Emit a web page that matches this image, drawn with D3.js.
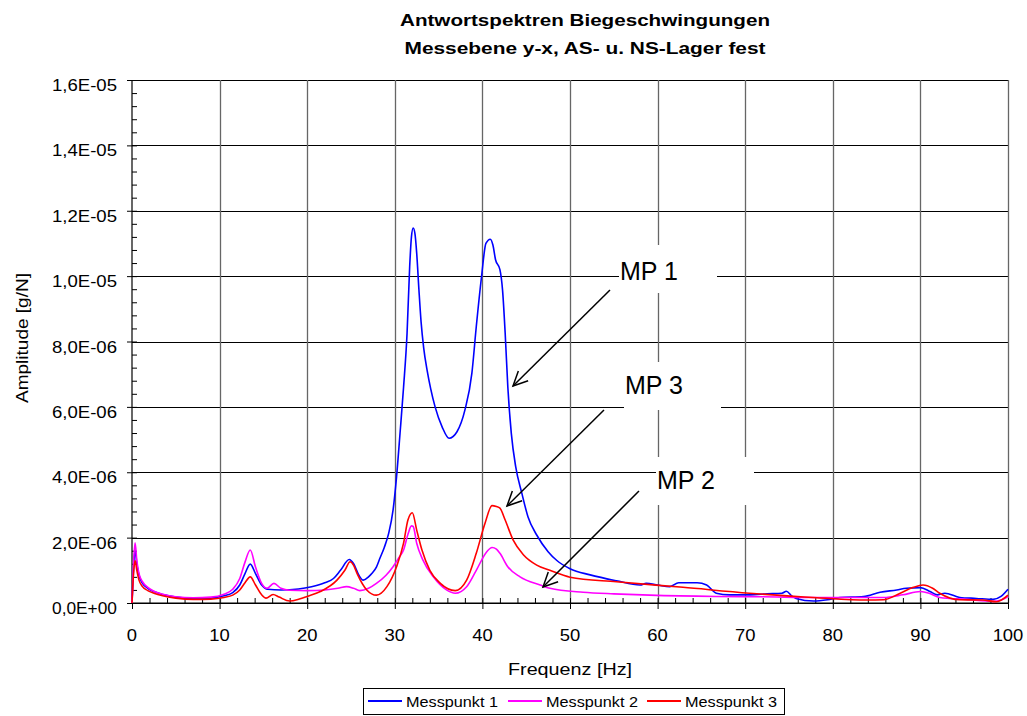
<!DOCTYPE html>
<html>
<head>
<meta charset="utf-8">
<script src="https://cdn.jsdelivr.net/npm/d3@7"></script>
<style>
  html, body { margin: 0; padding: 0; background: #fff; }
  svg { display: block; font-family: "Liberation Sans", Arial, sans-serif; }
</style>
</head>
<body>
<svg id="chart" width="1027" height="716"></svg>
<script>
// ---------- DATA (amplitude in units of 1E-06 g/N, frequency in Hz) ----------
const titleLines = ["Antwortspektren Biegeschwingungen", "Messebene y-x, AS- u. NS-Lager fest"];
const xLabel = "Frequenz [Hz]";
const yLabel = "Amplitude [g/N]";
const seriesNames = ["Messpunkt 1", "Messpunkt 2", "Messpunkt 3"];
const seriesColors = ["#0000ff", "#ff00ff", "#ff0000"];

const xTicks = [0, 10, 20, 30, 40, 50, 60, 70, 80, 90, 100];
const yTicks = [0, 2, 4, 6, 8, 10, 12, 14, 16];
const yTickLabels = ["0,0E+00", "2,0E-06", "4,0E-06", "6,0E-06", "8,0E-06", "1,0E-05", "1,2E-05", "1,4E-05", "1,6E-05"];

const mp1 = [[0,0],[0.15,0.9],[0.35,1.62],[0.55,1.2],[0.8,0.85],[1.2,0.6],[1.8,0.45],[2.5,0.35],[3.5,0.26],[5,0.18],[7,0.14],[9,0.15],[10.5,0.22],[11.5,0.32],[12.3,0.55],[12.9,0.9],[13.5,1.19],[14.1,0.9],[14.8,0.55],[15.5,0.42],[17,0.4],[19,0.43],[20.5,0.5],[22,0.62],[23,0.75],[23.8,1.0],[24.8,1.33],[25.3,1.2],[25.9,0.85],[26.4,0.7],[27,0.8],[27.4,0.91],[27.9,1.1],[28.3,1.37],[28.8,1.7],[29.3,2.13],[29.8,2.84],[30.2,3.86],[30.6,5.2],[31.0,6.6],[31.4,8.25],[31.7,10.3],[31.9,11.2],[32.1,11.47],[32.3,11.3],[32.5,10.7],[32.75,9.6],[33.0,8.6],[33.3,7.8],[33.7,7.1],[34.1,6.55],[34.6,6.0],[35.4,5.39],[36.2,5.04],[37.1,5.24],[38.0,5.9],[38.8,7.03],[39.3,8.45],[39.9,9.98],[40.4,11.0],[40.9,11.13],[41.2,10.95],[41.5,10.5],[42.0,10.2],[42.3,9.57],[42.6,8.25],[42.9,6.62],[43.3,5.19],[43.8,4.17],[44.5,3.36],[45.2,2.64],[46.2,2.08],[47.5,1.57],[48.5,1.3],[50,1.05],[52.3,0.86],[55.3,0.68],[58,0.55],[58.7,0.6],[60,0.55],[61.4,0.5],[62.4,0.62],[64.5,0.62],[65.6,0.55],[66.7,0.3],[68.2,0.25],[70.5,0.25],[72.5,0.28],[74.2,0.3],[74.7,0.36],[75.3,0.22],[75.8,0.14],[77.8,0.06],[79.4,0.1],[80.8,0.17],[83.5,0.2],[85.4,0.33],[87.3,0.4],[88.4,0.45],[90,0.47],[91.1,0.35],[91.9,0.25],[92.8,0.3],[94.5,0.17],[96.4,0.14],[98.3,0.11],[99.2,0.2],[100,0.42]];

const mp2 = [[0,0],[0.15,1.1],[0.35,1.84],[0.55,1.3],[0.8,0.9],[1.2,0.65],[1.8,0.48],[2.5,0.36],[3.5,0.27],[5,0.19],[7,0.16],[9,0.18],[10.5,0.27],[11.5,0.42],[12.3,0.75],[12.9,1.25],[13.5,1.62],[14.1,1.1],[14.8,0.6],[15.4,0.45],[16.2,0.6],[17,0.45],[18,0.39],[20,0.38],[22,0.4],[23.5,0.45],[24.5,0.5],[25.3,0.45],[26,0.38],[27,0.45],[27.9,0.6],[29,0.85],[29.8,1.11],[30.5,1.4],[31.0,1.62],[31.5,2.1],[31.9,2.36],[32.1,2.34],[32.5,1.83],[33.2,1.32],[34.4,0.8],[35.9,0.4],[36.9,0.3],[38.2,0.5],[39.3,1.0],[40.5,1.57],[41.1,1.7],[41.6,1.65],[42.0,1.52],[42.9,1.11],[44.3,0.8],[46.6,0.55],[47.7,0.45],[51.5,0.33],[55,0.28],[59.1,0.24],[66.7,0.2],[72,0.19],[78.2,0.17],[85.8,0.17],[88,0.25],[90,0.35],[91,0.3],[92.2,0.17],[95.3,0.11],[98.3,0.05],[99.3,0.1],[100,0.2]];

const mp3 = [[0,0],[0.15,0.8],[0.35,1.3],[0.55,1.0],[0.8,0.7],[1.2,0.5],[1.8,0.38],[2.5,0.3],[3.5,0.22],[5,0.15],[7,0.11],[9,0.12],[10.5,0.17],[11.5,0.24],[12.3,0.4],[12.9,0.62],[13.5,0.8],[14.1,0.55],[14.8,0.25],[15.3,0.15],[16.1,0.26],[16.8,0.18],[18,0.06],[19.1,0.12],[20,0.2],[21.5,0.35],[23.4,0.7],[24.3,1.0],[24.9,1.26],[25.3,1.15],[25.7,0.9],[26.8,0.4],[27.9,0.24],[29.1,0.5],[30.2,1.11],[31.0,1.83],[31.5,2.54],[32.0,2.76],[32.5,2.23],[33.1,1.62],[34.0,1.0],[35.2,0.6],[36.9,0.38],[38.2,0.7],[39.3,1.52],[40.3,2.44],[41.1,2.98],[41.6,2.95],[42.0,2.9],[42.6,2.54],[43.5,1.93],[44.7,1.47],[46.2,1.16],[47.7,1.0],[50,0.79],[55.3,0.65],[62.9,0.48],[70.5,0.3],[78.2,0.16],[83.9,0.09],[85.8,0.1],[87.7,0.3],[89.2,0.48],[90.3,0.55],[91.4,0.45],[92.2,0.3],[94.5,0.1],[97.1,0.09],[98.7,0.04],[100,0.24]];

const annotLabels = ["MP 1", "MP 3", "MP 2"];

// ---------- LAYOUT ----------
const svg = d3.select("#chart");
const plot = { left: 132, right: 1008, top: 80, bottom: 603 };
const x = d3.scaleLinear().domain([0, 100]).range([plot.left, plot.right]);
const y = d3.scaleLinear().domain([0, 16]).range([plot.bottom, plot.top]);

function stretch(sel, k) {
  sel.each(function () {
    const len = this.getComputedTextLength();
    d3.select(this).attr("textLength", len * k).attr("lengthAdjust", "spacingAndGlyphs");
  });
}
function fitTo(sel, w) {
  sel.attr("textLength", w).attr("lengthAdjust", "spacingAndGlyphs");
}

// Title
const t1 = svg.append("text").attr("x", 585).attr("y", 26).attr("text-anchor", "middle")
  .attr("font-size", 17).attr("font-weight", "bold").text(titleLines[0]);
fitTo(t1, 370);
const t2 = svg.append("text").attr("x", 585).attr("y", 54).attr("text-anchor", "middle")
  .attr("font-size", 17).attr("font-weight", "bold").text(titleLines[1]);
fitTo(t2, 361);

// Grid
const grid = svg.append("g");
grid.selectAll("line.h").data(yTicks).join("line")
  .attr("x1", plot.left).attr("x2", plot.right)
  .attr("y1", d => Math.round(y(d)) + 0.5).attr("y2", d => Math.round(y(d)) + 0.5)
  .attr("stroke", "#000").attr("stroke-width", 1);
grid.selectAll("line.v").data(xTicks.slice(1)).join("line")
  .attr("x1", d => Math.round(x(d)) + 0.5).attr("x2", d => Math.round(x(d)) + 0.5)
  .attr("y1", plot.top).attr("y2", plot.bottom)
  .attr("stroke", "#666").attr("stroke-width", 1.3);

// Axes (D3 axes)
const yMinor = d3.range(0, 16.01, 0.4);
const xMinor = d3.range(0, 100.01, 2);
const yAxisMinor = d3.axisRight(y).tickValues(yMinor).tickSize(5).tickFormat("");
const yAxisMajor = d3.axisLeft(y).tickValues(yTicks).tickSize(5).tickFormat("");
const xAxisMinor = d3.axisTop(x).tickValues(xMinor).tickSize(5).tickFormat("");
const xAxisMajor = d3.axisBottom(x).tickValues(xTicks).tickSize(6).tickFormat("");

function styleAxis(g) {
  g.selectAll("path").attr("stroke", "#000").attr("stroke-width", 1.2);
  g.selectAll("line").attr("stroke", "#000").attr("stroke-width", 1);
}
svg.append("g").attr("transform", `translate(${plot.left},0)`).call(yAxisMinor).call(styleAxis)
  .select("path").remove();
svg.append("g").attr("transform", `translate(${plot.left},0)`).call(yAxisMajor).call(styleAxis)
  .select("path").attr("d", `M0,${plot.top}V${plot.bottom}`);
svg.append("g").attr("transform", `translate(0,${plot.bottom})`).call(xAxisMinor).call(styleAxis)
  .select("path").remove();
svg.append("g").attr("transform", `translate(0,${plot.bottom})`).call(xAxisMajor).call(styleAxis)
  .select("path").attr("d", `M${plot.left},0H${plot.right}`);

// Tick labels
const yl = svg.append("g").selectAll("text").data(yTicks).join("text")
  .attr("x", 117).attr("y", d => y(d) + 11)
  .attr("text-anchor", "end").attr("font-size", 16).attr("fill", "#000")
  .text((d, i) => yTickLabels[i]);
fitTo(yl, 65);
const xl = svg.append("g").selectAll("text").data(xTicks).join("text")
  .attr("x", d => x(d)).attr("y", 641)
  .attr("text-anchor", "middle").attr("font-size", 16).attr("fill", "#000")
  .text(d => d);
stretch(xl, 1.15);

// Axis titles
const xt = svg.append("text").attr("x", 570).attr("y", 675).attr("text-anchor", "middle")
  .attr("font-size", 17).text(xLabel);
fitTo(xt, 124);
const yt = svg.append("text").attr("transform", "translate(28,338) rotate(-90)")
  .attr("text-anchor", "middle").attr("font-size", 16).text(yLabel);
fitTo(yt, 130);

// Series
const line = d3.line().x(d => x(d[0])).y(d => y(d[1])).curve(d3.curveMonotoneX);
const allSeries = [mp1, mp2, mp3];
const drawOrder = [0, 1, 2];
svg.append("g").selectAll("path").data(drawOrder).join("path")
  .attr("d", i => line(allSeries[i]))
  .attr("fill", "none").attr("stroke", i => seriesColors[i]).attr("stroke-width", 1.6)
  .attr("stroke-linejoin", "round");

// Annotations: white boxes, labels, arrows
const boxes = [
  { x: 619, y: 245, w: 98, h: 48, tx: 620, ty: 280, ax1: 610, ay1: 290, ax2: 513, ay2: 386 },
  { x: 624, y: 362, w: 97, h: 48, tx: 625, ty: 394, ax1: 604, ay1: 410, ax2: 507, ay2: 506 },
  { x: 656, y: 457, w: 98, h: 48, tx: 657, ty: 489, ax1: 639, ay1: 491, ax2: 543, ay2: 587 }
];
const ann = svg.append("g");
boxes.forEach((b, i) => {
  ann.append("rect").attr("x", b.x).attr("y", b.y).attr("width", b.w).attr("height", b.h).attr("fill", "#fff");
  ann.append("text").attr("x", b.tx).attr("y", b.ty).attr("font-size", 25).attr("fill", "#000").text(annotLabels[i]);
  ann.append("line").attr("x1", b.ax1).attr("y1", b.ay1).attr("x2", b.ax2).attr("y2", b.ay2)
    .attr("stroke", "#000").attr("stroke-width", 1.5);
  const ang = Math.atan2(b.ay2 - b.ay1, b.ax2 - b.ax1);
  const L = 16, sp = 0.45;
  const p1 = [b.ax2 - L * Math.cos(ang - sp), b.ay2 - L * Math.sin(ang - sp)];
  const p2 = [b.ax2 - L * Math.cos(ang + sp), b.ay2 - L * Math.sin(ang + sp)];
  ann.append("path").attr("d", `M${p1[0]},${p1[1]}L${b.ax2},${b.ay2}L${p2[0]},${p2[1]}`)
    .attr("fill", "none").attr("stroke", "#000").attr("stroke-width", 1.5);
});

// Legend
const lg = svg.append("g");
lg.append("rect").attr("x", 363.5).attr("y", 688.5).attr("width", 421).attr("height", 26)
  .attr("fill", "#fff").attr("stroke", "#000").attr("stroke-width", 1);
const legendX = [368, 508, 647];
seriesNames.forEach((name, i) => {
  lg.append("line").attr("x1", legendX[i]).attr("x2", legendX[i] + 34).attr("y1", 701).attr("y2", 701)
    .attr("stroke", seriesColors[i]).attr("stroke-width", 2);
  const tx = lg.append("text").attr("x", legendX[i] + 38).attr("y", 707).attr("font-size", 14)
    .attr("fill", "#000").text(name);
  fitTo(tx, 92);
});
</script>
</body>
</html>
